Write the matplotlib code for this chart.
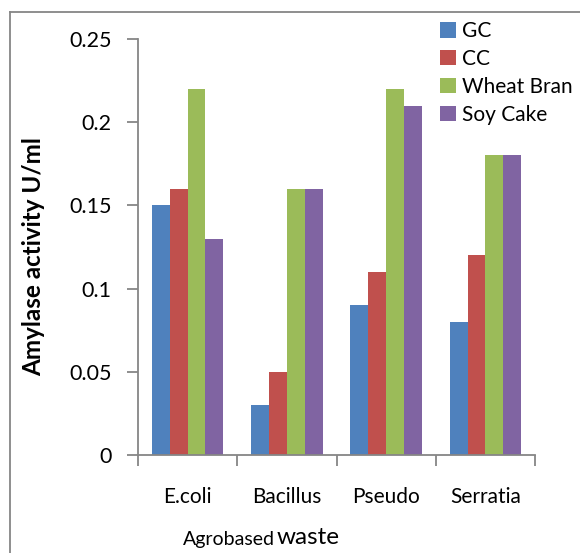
import matplotlib
matplotlib.use("Agg")
import matplotlib.pyplot as plt
import numpy as np
from matplotlib.lines import Line2D

categories = ["E.coli", "Bacillus", "Pseudo", "Serratia"]
series_names = ["GC", "CC", "Wheat Bran", "Soy Cake"]
gc = [0.15, 0.03, 0.09, 0.08]
cc = [0.16, 0.05, 0.11, 0.12]
wheat_bran = [0.22, 0.16, 0.22, 0.18]
soy_cake = [0.13, 0.16, 0.21, 0.18]
colors = ["#4F81BD", "#C0504D", "#9BBB59", "#8064A2"]
yticks = [0, 0.05, 0.1, 0.15, 0.2, 0.25]
ytick_labels = ["0", "0.05", "0.1", "0.15", "0.2", "0.25"]

plt.rcParams['font.family'] = ['Lato', 'DejaVu Sans']

W, H = 580, 553
fig = plt.figure(figsize=(W / 100, H / 100), dpi=100)
ax = fig.add_axes([138 / W, 1 - 455 / H, (535 - 138) / W, (455 - 39) / H])

x = np.arange(len(categories))
bw = 0.18
data = [gc, cc, wheat_bran, soy_cake]
handles = []
for i, (vals, c, name) in enumerate(zip(data, colors, series_names)):
    b = ax.bar(x + (i - 1.5) * bw, vals, width=bw, color=c, label=name, edgecolor='none')
    handles.append(b)

ax.set_xlim(-0.5, len(categories) - 0.5)
ax.set_ylim(0, 0.25)
ax.set_yticks(yticks)
ax.set_yticklabels(ytick_labels, fontsize=15.5)
ax.set_xticks(np.arange(-0.5, len(categories)), minor=False)
ax.set_xticklabels([])
ax.set_xticks(x, minor=True)
ax.set_xticklabels(categories, minor=True, fontsize=15)
ax.tick_params(axis='x', which='minor', length=0, pad=23)
ax.tick_params(axis='x', which='major', length=8, width=1.3, color='#868686', direction='out')
ax.tick_params(axis='y', length=8, width=1.3, color='#868686', direction='out', pad=11)

for s in ['top', 'right']:
    ax.spines[s].set_visible(False)
for s in ['left', 'bottom']:
    ax.spines[s].set_color('#868686')
    ax.spines[s].set_linewidth(1.3)

ax.set_ylabel("Amylase activity U/ml", fontsize=17.5, fontweight='bold')
ax.yaxis.set_label_coords((45 - 138) / 397, (455 - 257) / 416)

fig.text(183 / W, 1 - 539 / H, "Agrobased", fontsize=14, va='center', ha='left')
fig.text(277 / W, 1 - 537 / H, "waste", fontsize=17.5, va='center', ha='left')

fig.legend(handles=handles, labels=series_names, loc='upper left',
           bbox_to_anchor=(436 / W, 1 - 17 / H), frameon=False, fontsize=15,
           handlelength=0.75, handleheight=0.75, handletextpad=0.3,
           labelspacing=0.38, borderaxespad=0, borderpad=0.2)

# outer chart border (left and top visible)
fig.add_artist(Line2D([10 / W, 10 / W], [0, 1 - 12 / H], transform=fig.transFigure,
                      color='#868686', linewidth=1.3))
fig.add_artist(Line2D([10 / W, 1], [1 - 12 / H, 1 - 12 / H], transform=fig.transFigure,
                      color='#868686', linewidth=1.3))

fig.savefig("out.png", dpi=100)
